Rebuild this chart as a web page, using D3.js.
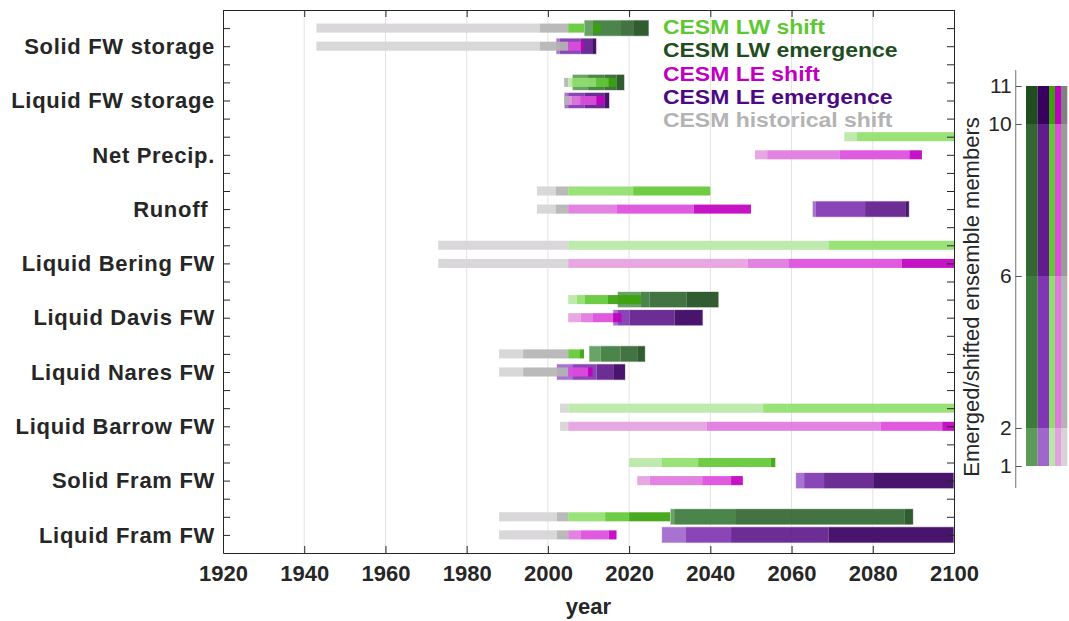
<!DOCTYPE html>
<html>
<head>
<meta charset="utf-8">
<script src="https://cdn.jsdelivr.net/npm/d3@7"></script>
<style>
  body { margin: 0; background: #fff; }
  text { font-family: "Liberation Sans", Arial, Helvetica, sans-serif; }
</style>
</head>
<body>
<svg id="chart" width="1069" height="621"></svg>
<script>
// ---- data -------------------------------------------------------------
// Each bar is a list of [fromYear, toYear, memberClass] segments.
// memberClass: 1 = 1 member, 2 = 2-5, 3 = 6-9, 4 = 10-11 members.
const variables = ["Solid FW storage", "Liquid FW storage", "Net Precip.", "Runoff ",
  "Liquid Bering FW", "Liquid Davis FW", "Liquid Nares FW", "Liquid Barrow FW",
  "Solid Fram FW", "Liquid Fram FW"];

const xTicks = [1920, 1940, 1960, 1980, 2000, 2020, 2040, 2060, 2080, 2100];
const memberTicks = [1, 2, 6, 10, 11];
const memberBands = [[1, 2], [2, 6], [6, 10], [10, 11]];

// CESM historical shift (upper row: LW run, lower row: LE run)
const lwHist = [
  [[1943, 1998, 1], [1998, 2005, 2]],
  [[2004, 2005, 2]],
  [],
  [[1997.3, 2001.9, 1], [2001.9, 2005, 2]],
  [[1973, 2005, 1]],
  [],
  [[1988, 1993.9, 1], [1993.9, 2005, 2]],
  [[2003, 2005, 1]],
  [],
  [[1988, 2002.2, 1], [2002.2, 2005, 2]]
];
const leHist = [
  [[1943, 1998, 1], [1998, 2005, 2]],
  [[2004, 2005, 2]],
  [],
  [[1997.3, 2001.9, 1], [2001.9, 2005, 2]],
  [[1973, 2005, 1]],
  [],
  [[1988, 1993.9, 1], [1993.9, 2005, 2]],
  [[2003, 2005, 1]],
  [],
  [[1988, 2002.2, 1], [2002.2, 2005, 2]]
];

// CESM LW shift / emergence
const lwShift = [
  [[2005, 2008.9, 3], [2011.1, 2013, 4]],
  [[2005, 2006, 1], [2006, 2012, 2], [2012, 2015, 3], [2015, 2016.9, 4]],
  [[2073, 2076.1, 1], [2076.1, 2100, 2]],
  [[2005, 2021, 2], [2021, 2040, 3]],
  [[2005, 2069.1, 1], [2069.1, 2100, 2]],
  [[2005, 2007.1, 1], [2007.1, 2009.1, 2], [2009.1, 2014.8, 3], [2014.8, 2022.9, 4]],
  [[2005, 2007.9, 3], [2007.9, 2008.9, 4]],
  [[2005, 2053, 1], [2053, 2100, 2]],
  [[2020, 2028, 1], [2028, 2037, 2], [2037, 2054.9, 3], [2054.9, 2056, 4]],
  [[2005, 2014.1, 2], [2014.1, 2020, 3], [2020, 2030.1, 4]]
];
const lwEmerge = [
  [[2008.9, 2011.1, 1], [2011.1, 2018, 2], [2018, 2021, 3], [2021, 2024.9, 4]],
  [[2006, 2009.9, 1], [2009.9, 2014, 2], [2014, 2016.9, 3], [2016.9, 2018.9, 4]],
  [],
  [],
  [],
  [[2017.1, 2022.9, 1], [2022.9, 2025, 2], [2025, 2034.1, 3], [2034.1, 2042.1, 4]],
  [[2010.1, 2013, 1], [2013, 2017.9, 2], [2017.9, 2022, 3], [2022, 2024, 4]],
  [],
  [],
  [[2030.1, 2031.1, 1], [2031.1, 2046.1, 2], [2046.1, 2087.9, 3], [2087.9, 2090, 4]]
];

// CESM LE shift / emergence
const leShift = [
  [[2005, 2008.1, 3], [2008.1, 2008.9, 4]],
  [[2005, 2006, 1], [2006, 2008.1, 2], [2008.1, 2012, 3], [2012, 2013.9, 4]],
  [[2051, 2054, 1], [2054, 2071.9, 2], [2071.9, 2089, 3], [2089, 2092.1, 4]],
  [[2005, 2017, 2], [2017, 2035.9, 3], [2035.9, 2050, 4]],
  [[2005, 2049.2, 1], [2049.2, 2059.2, 2], [2059.2, 2087.1, 3], [2087.1, 2100, 4]],
  [[2005, 2008.1, 1], [2008.1, 2011.1, 2], [2011.1, 2016, 3], [2016, 2018.1, 4]],
  [[2005, 2009.9, 3], [2009.9, 2011, 4]],
  [[2005, 2039.1, 1], [2039.1, 2082, 2], [2082, 2097.1, 3], [2097.1, 2100, 4]],
  [[2022, 2025.1, 1], [2025.1, 2038, 2], [2038, 2045.1, 3], [2045.1, 2048, 4]],
  [[2005, 2008, 2], [2008, 2015, 3], [2015, 2016.9, 4]]
];
const leEmerge = [
  [[2002, 2002.9, 1], [2002.9, 2008.1, 2], [2008.1, 2010.9, 3], [2010.9, 2012, 4]],
  [[2004, 2005, 1], [2005, 2009, 2], [2009, 2013.9, 3], [2013.9, 2015.2, 4]],
  [],
  [[2065.1, 2066, 1], [2066, 2078.1, 2], [2078.1, 2088, 3], [2088, 2089, 4]],
  [],
  [[2016, 2017.1, 1], [2017.1, 2020.1, 2], [2020.1, 2031.2, 3], [2031.2, 2038.2, 4]],
  [[2002.1, 2006, 1], [2006, 2012, 2], [2012, 2016.1, 3], [2016.1, 2019.1, 4]],
  [],
  [[2061, 2063.1, 1], [2063.1, 2068, 2], [2068, 2080.1, 3], [2080.1, 2100, 4]],
  [[2028, 2034, 1], [2034, 2045.1, 2], [2045.1, 2069.1, 3], [2069.1, 2100, 4]]
];

const legendItems = ["CESM LW shift", "CESM LW emergence", "CESM LE shift",
  "CESM LE emergence", "CESM historical shift"];

// ---- styles -----------------------------------------------------------
const lwShiftColors  = ["#b8e8a6", "#8fdf6c", "#62c935", "#3aa30c"];
const lwEmergeColors = ["#5e9a5b", "#3d7b3d", "#336633", "#1f4d1f"];
const leShiftColors  = ["#e4a0e0", "#e078e0", "#dd4cdd", "#c000c0"];
const leEmergeColors = ["#a066cc", "#8036b0", "#601c8c", "#3a0060"];
const histColors     = ["#d6d4d6", "#b4b4b4", "#9b9b9b", "#808080"];
const legendColors   = ["#5ec832", "#1f4d1f", "#c000c0", "#4b0a84", "#b3b3b3"];
const axisColor = "#262626";

const svg = d3.select("#chart");
const x = d3.scaleLinear().domain([1920, 2100]).range([223, 954]);
const y = d3.scaleLinear().domain([0, 30]).range([10, 553]);

// grid
svg.append("g").selectAll("line")
  .data(xTicks.slice(1, -1)).join("line")
  .attr("x1", d => x(d)).attr("x2", d => x(d))
  .attr("y1", y(0)).attr("y2", y(30))
  .attr("stroke", "#e3e3e3").attr("stroke-width", 1);

const bars = svg.append("g");

function drawBars(data, rowOffset, thick, colors, outlined) {
  data.forEach((segs, i) => {
    if (!segs.length) return;
    const r = 3 * i + rowOffset;
    const y0 = y(r - thick / 2), y1 = y(r + thick / 2);
    const g = bars.append("g");
    g.selectAll(null).data(segs).join("rect")
      .attr("x", d => x(d[0]))
      .attr("width", d => x(d[1]) - x(d[0]))
      .attr("y", y0).attr("height", y1 - y0)
      .attr("fill", d => colors[d[2] - 1])
      .attr("fill-opacity", 0.92);
    if (outlined) {
      const ext = [d3.min(segs, d => d[0]), d3.max(segs, d => d[1])];
      g.append("rect")
        .attr("x", x(ext[0])).attr("width", x(ext[1]) - x(ext[0]))
        .attr("y", y0).attr("height", y1 - y0)
        .attr("fill", "none").attr("stroke", "#ffffff")
        .attr("stroke-opacity", 0.7).attr("stroke-width", 1);
    }
  });
}

// emergence underneath, then historical and projected shift on top
drawBars(lwEmerge, 1, 0.9, lwEmergeColors, true);
drawBars(leEmerge, 2, 0.9, leEmergeColors, true);
drawBars(lwHist, 1, 0.5, histColors, false);
drawBars(leHist, 2, 0.5, histColors, false);
drawBars(lwShift, 1, 0.5, lwShiftColors, false);
drawBars(leShift, 2, 0.5, leShiftColors, false);

// ---- axes ---------------------------------------------------------------
const yTicks = d3.range(1, 30);
const tickLen = 7;

function styleAxis(g) {
  g.selectAll("path.domain").attr("stroke", axisColor).attr("stroke-width", 1);
  g.selectAll(".tick line").attr("stroke", axisColor).attr("stroke-width", 1);
}

svg.append("g").attr("transform", `translate(0,${y(30)})`)
  .call(d3.axisBottom(x).tickValues(xTicks).tickFormat(d3.format("d"))
    .tickSizeInner(-tickLen).tickSizeOuter(0).tickPadding(12))
  .call(styleAxis)
  .call(g => g.selectAll("text")
    .attr("fill", axisColor).attr("font-size", 22).attr("font-weight", "bold")
    .attr("font-family", "'Liberation Sans', Arial, sans-serif"));

svg.append("g").attr("transform", `translate(0,${y(0)})`)
  .call(d3.axisTop(x).tickValues(xTicks).tickFormat("")
    .tickSizeInner(-tickLen).tickSizeOuter(0))
  .call(styleAxis);

svg.append("g").attr("transform", `translate(${x(1920)},0)`)
  .call(d3.axisLeft(y).tickValues(yTicks).tickFormat("")
    .tickSizeInner(-tickLen).tickSizeOuter(0))
  .call(styleAxis);

svg.append("g").attr("transform", `translate(${x(2100)},0)`)
  .call(d3.axisRight(y).tickValues(yTicks).tickFormat("")
    .tickSizeInner(-tickLen).tickSizeOuter(0))
  .call(styleAxis);

// category labels, centred on the LE row of each variable
svg.append("g").selectAll("text").data(variables).join("text")
  .attr("x", 215).attr("y", (d, i) => y(3 * i + 2))
  .attr("dy", "0.35em").attr("text-anchor", "end")
  .attr("font-size", 22).attr("font-weight", "bold").attr("fill", axisColor)
  .attr("letter-spacing", "0.7px")
  .style("white-space", "pre")
  .text(d => d);

svg.append("text")
  .attr("x", (x(1920) + x(2100)) / 2).attr("y", 614)
  .attr("text-anchor", "middle")
  .attr("font-size", 22).attr("font-weight", "bold").attr("fill", axisColor)
  .text("year");

// legend (text slightly widened, as in the wide bold face of the figure)
svg.append("g").selectAll("text").data(legendItems).join("text")
  .attr("transform", (d, i) => `translate(663,${27 + i * 23.3}) scale(1.12,1)`)
  .attr("dy", "0.35em")
  .attr("font-size", 20.5).attr("font-weight", "bold")
  .attr("fill", (d, i) => legendColors[i])
  .text(d => d);

// ---- member colour bar ------------------------------------------------
const cb = d3.scaleLinear().domain([1, 11]).range([466, 86]);
const cbColumns = [
  { colors: lwEmergeColors, x0: 1026, x1: 1037.7 },
  { colors: leEmergeColors, x0: 1037.7, x1: 1049 },
  { colors: lwShiftColors, x0: 1049, x1: 1055 },
  { colors: leShiftColors, x0: 1055, x1: 1061 },
  { colors: histColors, x0: 1061, x1: 1067.3 }
];
const cbg = svg.append("g");
cbColumns.forEach(col => {
  cbg.append("g").selectAll("rect").data(memberBands).join("rect")
    .attr("x", col.x0).attr("width", col.x1 - col.x0)
    .attr("y", d => cb(d[1])).attr("height", d => cb(d[0]) - cb(d[1]))
    .attr("fill", (d, i) => col.colors[i]);
});

const cbAxisX = 1015.7;
svg.append("line")
  .attr("x1", cbAxisX).attr("x2", cbAxisX).attr("y1", 70).attr("y2", 488)
  .attr("stroke", "#8a8a8a").attr("stroke-width", 1.2);
svg.append("g").attr("transform", `translate(${cbAxisX},0)`)
  .call(d3.axisLeft(cb).tickValues(memberTicks).tickFormat(d3.format("d"))
    .tickSizeInner(-6).tickSizeOuter(0).tickPadding(4))
  .call(g => g.select("path.domain").remove())
  .call(g => g.selectAll(".tick line").attr("stroke", "#555"))
  .call(g => g.selectAll("text").attr("fill", axisColor).attr("font-size", 21)
    .attr("font-family", "'Liberation Sans', Arial, sans-serif"));

svg.append("text")
  .attr("transform", "translate(979,297) rotate(-90)")
  .attr("text-anchor", "middle")
  .attr("font-size", 22).attr("fill", axisColor)
  .text("Emerged/shifted ensemble members");
</script>
</body>
</html>
